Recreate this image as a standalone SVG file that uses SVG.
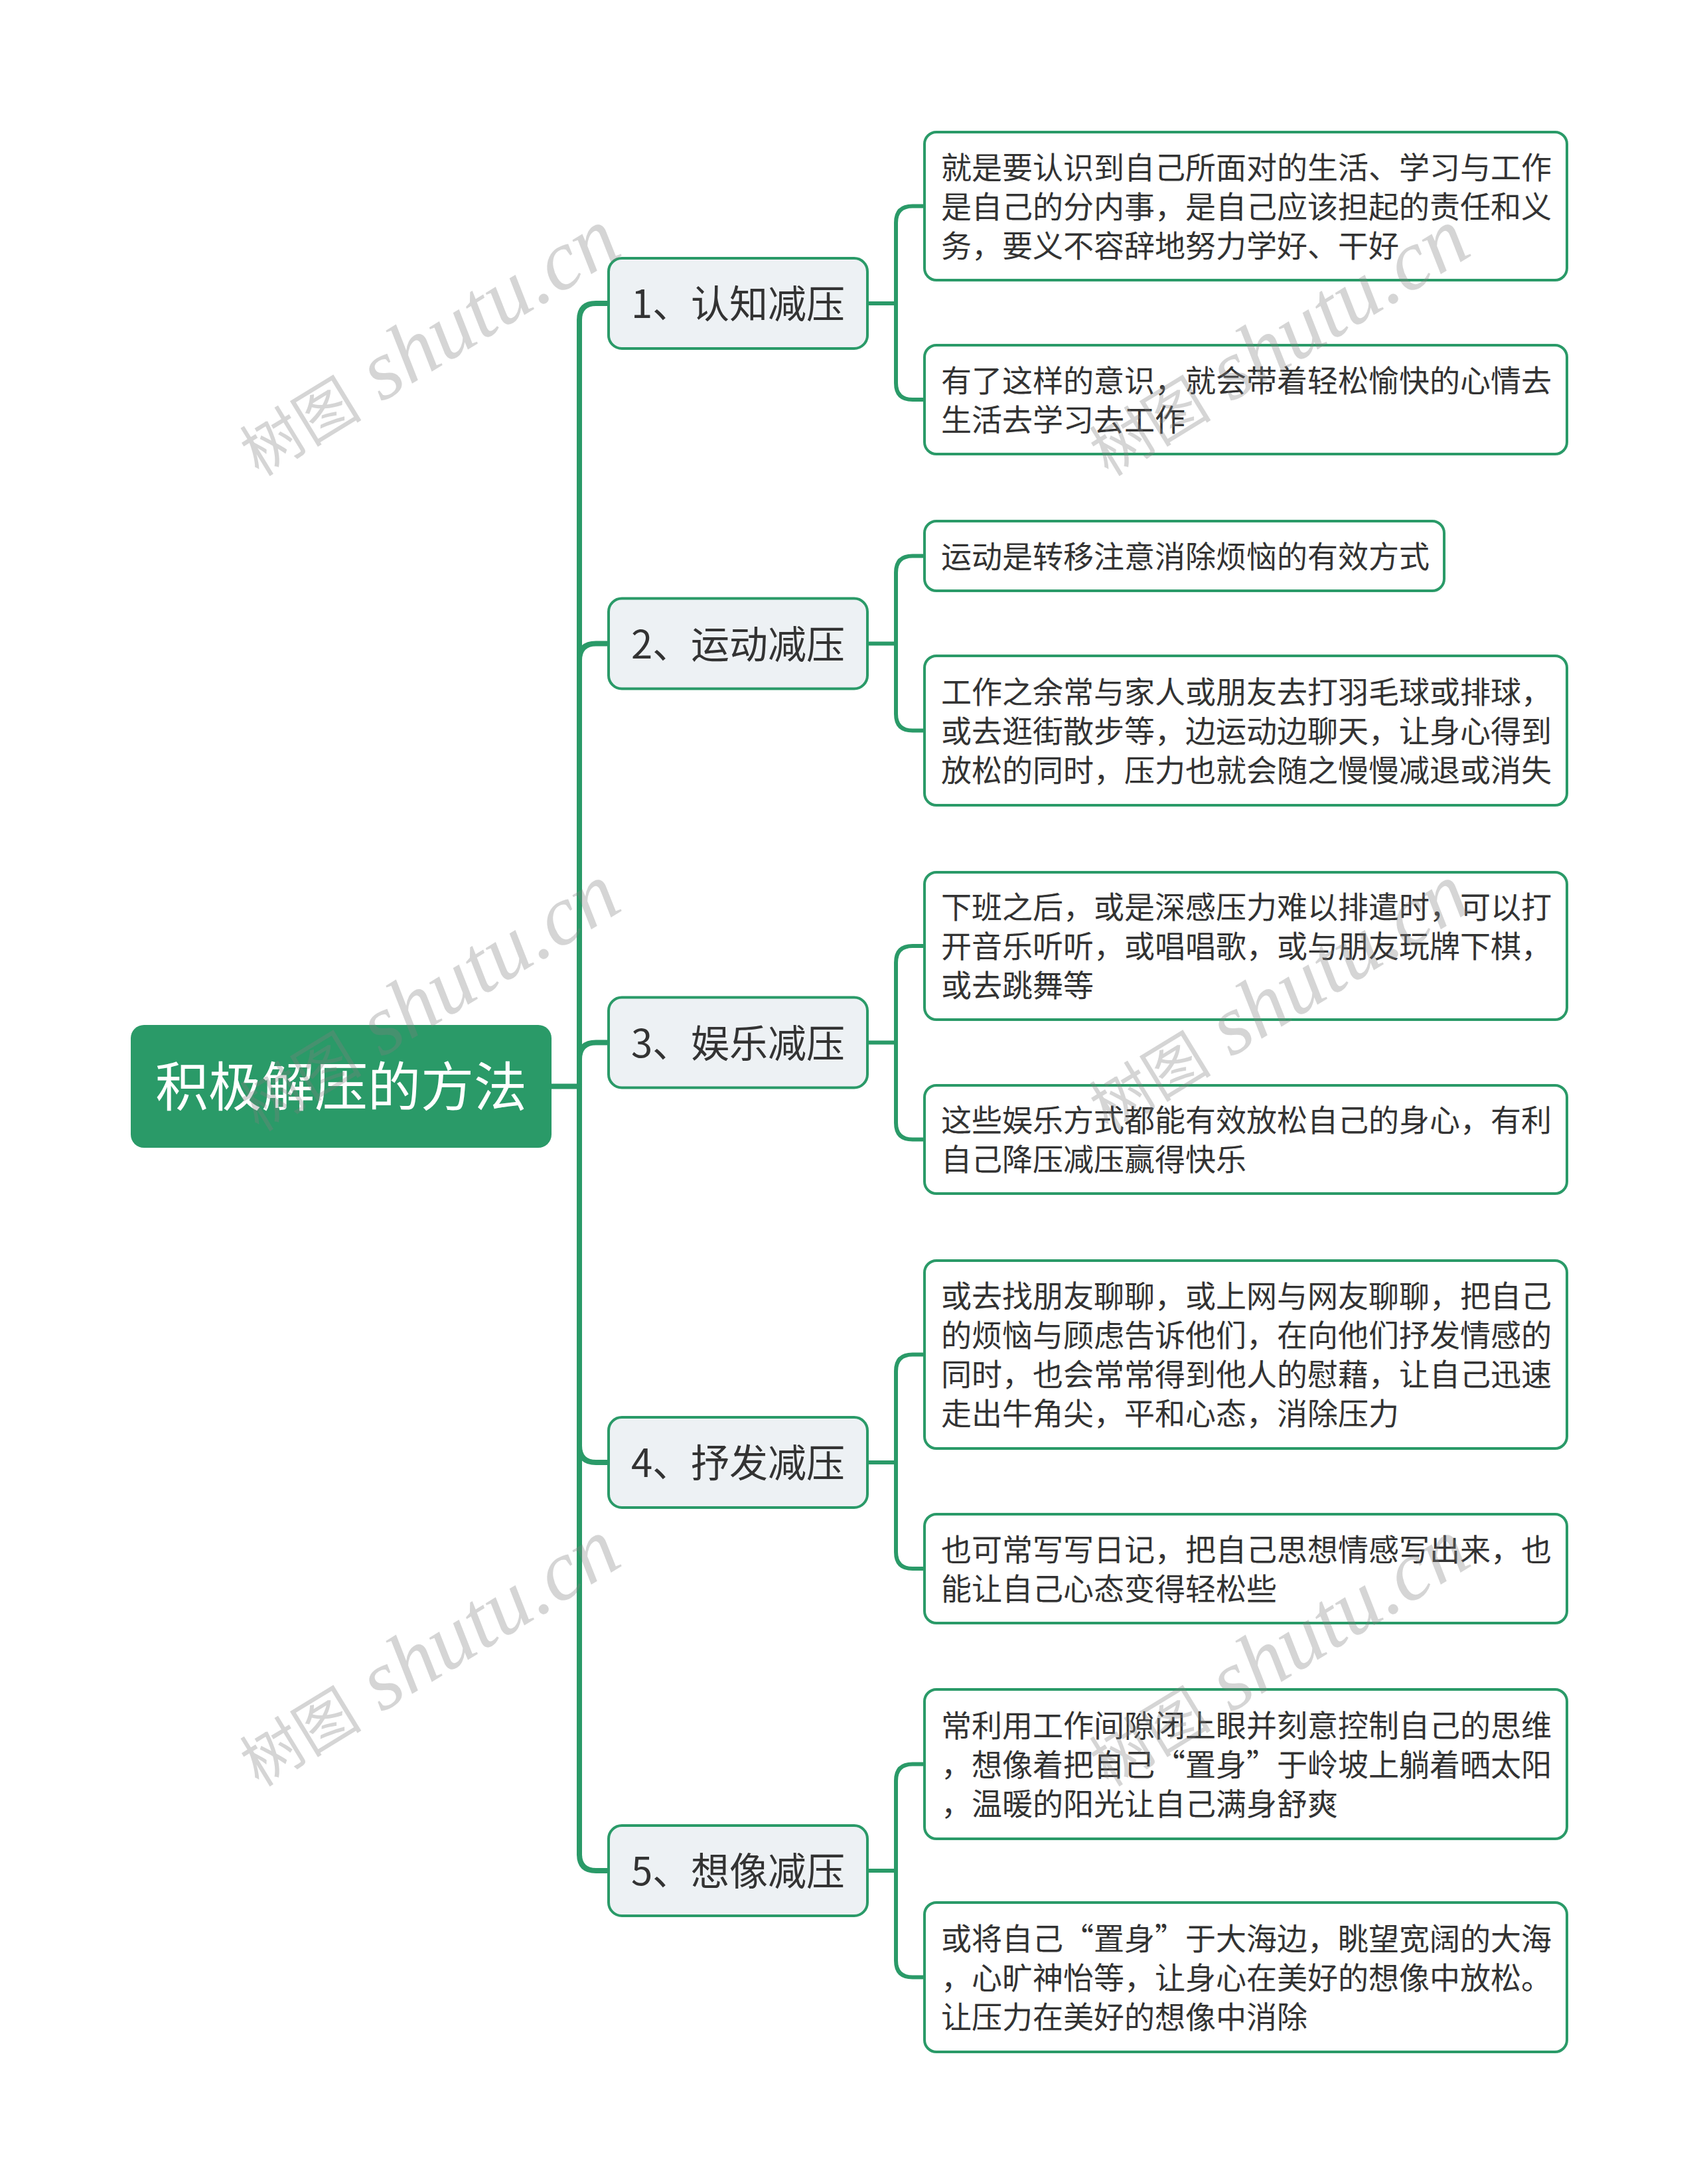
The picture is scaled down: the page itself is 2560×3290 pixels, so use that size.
<svg xmlns="http://www.w3.org/2000/svg" width="2560" height="3290" viewBox="0 0 2560 3290">
<style>
.bg{fill:#ffffff}
.c1{fill:none;stroke:#2a9a68;stroke-width:8;stroke-linecap:round;stroke-linejoin:round}
.c2{fill:none;stroke:#2a9a68;stroke-width:6;stroke-linecap:round;stroke-linejoin:round}
.root{fill:#2a9a68}
.l1{fill:#edf1f4;stroke:#2a9a68;stroke-width:4}
.l2{fill:#ffffff;stroke:#2a9a68;stroke-width:4}
.t0{font-family:"Noto Sans CJK SC","Noto Sans",sans-serif;font-size:80px;fill:#ffffff;text-anchor:middle}
.t1{font-family:"Noto Sans CJK SC","Noto Sans",sans-serif;font-size:58px;fill:#333333;text-anchor:middle}
.t2{font-family:"Noto Sans CJK SC","Noto Sans",sans-serif;font-size:46px;fill:#333333}
.wm{font-family:"Liberation Serif","Noto Sans CJK SC",serif;fill:#808080;fill-opacity:0.33;text-anchor:middle}
</style>
<rect class="bg" x="0" y="0" width="2560" height="3290"/>
<g id="connectors">
<path class="c1" d="M831 1636.5 H873"/>
<path class="c1" d="M873 1636.5 V482 Q873 457 898 457 H917"/>
<path class="c1" d="M873 1636.5 V994.5 Q873 969.5 898 969.5 H917"/>
<path class="c1" d="M873 1636.5 V1595.5 Q873 1570.5 898 1570.5 H917"/>
<path class="c1" d="M873 1636.5 V2178 Q873 2203 898 2203 H917"/>
<path class="c1" d="M873 1636.5 V2793 Q873 2818 898 2818 H917"/>
<path class="c2" d="M1307 457 H1350 M1350 457 V335.5 Q1350 310.5 1375 310.5 H1393 M1350 457 V577 Q1350 602 1375 602 H1393"/>
<path class="c2" d="M1307 969.5 H1350 M1350 969.5 V862.5 Q1350 837.5 1375 837.5 H1393 M1350 969.5 V1075.5 Q1350 1100.5 1375 1100.5 H1393"/>
<path class="c2" d="M1307 1570.5 H1350 M1350 1570.5 V1450 Q1350 1425 1375 1425 H1393 M1350 1570.5 V1691.5 Q1350 1716.5 1375 1716.5 H1393"/>
<path class="c2" d="M1307 2203 H1350 M1350 2203 V2065.5 Q1350 2040.5 1375 2040.5 H1393 M1350 2203 V2338 Q1350 2363 1375 2363 H1393"/>
<path class="c2" d="M1307 2818 H1350 M1350 2818 V2682.5 Q1350 2657.5 1375 2657.5 H1393 M1350 2818 V2953.5 Q1350 2978.5 1375 2978.5 H1393"/>
</g>
<g id="root">
<rect class="root" x="197" y="1544" width="634" height="185" rx="20"/>
<text class="t0" x="514" y="1666">积极解压的方法</text>
</g>
<g id="n1">
<rect class="l1" x="917" y="389" width="390" height="136" rx="20"/>
<text class="t1" x="1112" y="479">1、认知减压</text>
</g>
<g id="n2">
<rect class="l1" x="917" y="901.5" width="390" height="136" rx="20"/>
<text class="t1" x="1112" y="991.5">2、运动减压</text>
</g>
<g id="n3">
<rect class="l1" x="917" y="1502.5" width="390" height="136" rx="20"/>
<text class="t1" x="1112" y="1592.5">3、娱乐减压</text>
</g>
<g id="n4">
<rect class="l1" x="917" y="2135" width="390" height="136" rx="20"/>
<text class="t1" x="1112" y="2225">4、抒发减压</text>
</g>
<g id="n5">
<rect class="l1" x="917" y="2750" width="390" height="136" rx="20"/>
<text class="t1" x="1112" y="2840">5、想像减压</text>
</g>
<g id="n1a">
<rect class="l2" x="1393" y="199" width="968" height="223" rx="18"/>
<text class="t2" x="1418" y="268.5">就是要认识到自己所面对的生活、学习与工作</text>
<text class="t2" x="1418" y="327.5">是自己的分内事，是自己应该担起的责任和义</text>
<text class="t2" x="1418" y="386.5">务，要义不容辞地努力学好、干好</text>
</g>
<g id="n1b">
<rect class="l2" x="1393" y="520" width="968" height="164" rx="18"/>
<text class="t2" x="1418" y="589.5">有了这样的意识，就会带着轻松愉快的心情去</text>
<text class="t2" x="1418" y="648.5">生活去学习去工作</text>
</g>
<g id="n2a">
<rect class="l2" x="1393" y="785" width="783" height="105" rx="18"/>
<text class="t2" x="1418" y="854.5">运动是转移注意消除烦恼的有效方式</text>
</g>
<g id="n2b">
<rect class="l2" x="1393" y="988" width="968" height="225" rx="18"/>
<text class="t2" x="1418" y="1058.5">工作之余常与家人或朋友去打羽毛球或排球，</text>
<text class="t2" x="1418" y="1117.5">或去逛街散步等，边运动边聊天，让身心得到</text>
<text class="t2" x="1418" y="1176.5">放松的同时，压力也就会随之慢慢减退或消失</text>
</g>
<g id="n3a">
<rect class="l2" x="1393" y="1314" width="968" height="222" rx="18"/>
<text class="t2" x="1418" y="1383">下班之后，或是深感压力难以排遣时，可以打</text>
<text class="t2" x="1418" y="1442">开音乐听听，或唱唱歌，或与朋友玩牌下棋，</text>
<text class="t2" x="1418" y="1501">或去跳舞等</text>
</g>
<g id="n3b">
<rect class="l2" x="1393" y="1635" width="968" height="163" rx="18"/>
<text class="t2" x="1418" y="1704">这些娱乐方式都能有效放松自己的身心，有利</text>
<text class="t2" x="1418" y="1763">自己降压减压赢得快乐</text>
</g>
<g id="n4a">
<rect class="l2" x="1393" y="1899" width="968" height="283" rx="18"/>
<text class="t2" x="1418" y="1969">或去找朋友聊聊，或上网与网友聊聊，把自己</text>
<text class="t2" x="1418" y="2028">的烦恼与顾虑告诉他们，在向他们抒发情感的</text>
<text class="t2" x="1418" y="2087">同时，也会常常得到他人的慰藉，让自己迅速</text>
<text class="t2" x="1418" y="2146">走出牛角尖，平和心态，消除压力</text>
</g>
<g id="n4b">
<rect class="l2" x="1393" y="2281" width="968" height="164" rx="18"/>
<text class="t2" x="1418" y="2350.5">也可常写写日记，把自己思想情感写出来，也</text>
<text class="t2" x="1418" y="2409.5">能让自己心态变得轻松些</text>
</g>
<g id="n5a">
<rect class="l2" x="1393" y="2545" width="968" height="225" rx="18"/>
<text class="t2" x="1418" y="2615.5">常利用工作间隙闭上眼并刻意控制自己的思维</text>
<text class="t2" x="1418" y="2674.5">，想像着把自己“置身”于岭坡上躺着晒太阳</text>
<text class="t2" x="1418" y="2733.5">，温暖的阳光让自己满身舒爽</text>
</g>
<g id="n5b">
<rect class="l2" x="1393" y="2866" width="968" height="225" rx="18"/>
<text class="t2" x="1418" y="2936.5">或将自己“置身”于大海边，眺望宽阔的大海</text>
<text class="t2" x="1418" y="2995.5">，心旷神怡等，让身心在美好的想像中放松。</text>
<text class="t2" x="1418" y="3054.5">让压力在美好的想像中消除</text>
</g>
<g id="watermarks">
<g transform="translate(646 518) rotate(-31.4)"><text class="wm" x="0" y="38"><tspan font-size="92">树图</tspan><tspan font-size="128" font-style="italic"> shutu.cn</tspan></text></g>
<g transform="translate(1926 518) rotate(-31.4)"><text class="wm" x="0" y="38"><tspan font-size="92">树图</tspan><tspan font-size="128" font-style="italic"> shutu.cn</tspan></text></g>
<g transform="translate(646 1505) rotate(-31.4)"><text class="wm" x="0" y="38"><tspan font-size="92">树图</tspan><tspan font-size="128" font-style="italic"> shutu.cn</tspan></text></g>
<g transform="translate(1926 1505) rotate(-31.4)"><text class="wm" x="0" y="38"><tspan font-size="92">树图</tspan><tspan font-size="128" font-style="italic"> shutu.cn</tspan></text></g>
<g transform="translate(646 2492) rotate(-31.4)"><text class="wm" x="0" y="38"><tspan font-size="92">树图</tspan><tspan font-size="128" font-style="italic"> shutu.cn</tspan></text></g>
<g transform="translate(1926 2492) rotate(-31.4)"><text class="wm" x="0" y="38"><tspan font-size="92">树图</tspan><tspan font-size="128" font-style="italic"> shutu.cn</tspan></text></g>
</g>
</svg>
